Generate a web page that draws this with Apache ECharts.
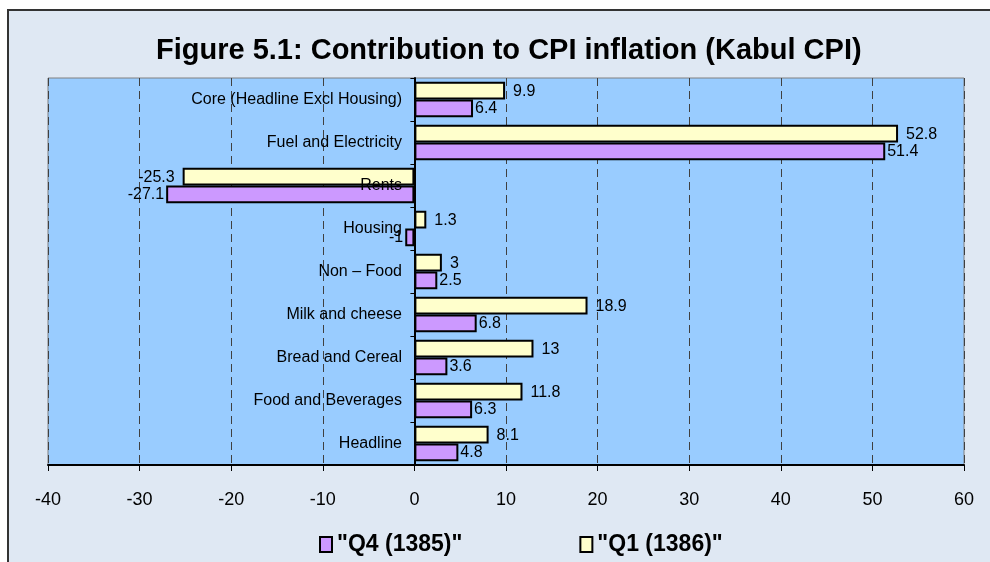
<!DOCTYPE html>
<html>
<head>
<meta charset="utf-8">
<script src="https://cdn.jsdelivr.net/npm/echarts@6/dist/echarts.min.js"></script>
<style>
    html, body { margin: 0; padding: 0; background: #fff; }
    #chart { width: 990px; height: 562px; }
</style>
</head>
<body>
<div id="chart"></div>
<script>
// categories from bottom to top
var categories = ['Headline', 'Food and Beverages', 'Bread and Cereal', 'Milk and cheese',
    'Non \u2013 Food', 'Housing', 'Rents', 'Fuel and Electricity', 'Core (Headline Excl Housing)'];
var q4_1385 = [4.8, 6.3, 3.6, 6.8, 2.5, -1, -27.1, 51.4, 6.4];
var q1_1386 = [8.1, 11.8, 13, 18.9, 3, 1.3, -25.3, 52.8, 9.9];
var xTicks = { min: -40, max: 60, interval: 10 };

var fontName = 'Liberation Sans, Arial, sans-serif';

function barData(arr, dy) {
    // negative bars get their label on the left
    return arr.map(function (v) {
        return {
            value: v,
            label: { position: v < 0 ? 'left' : 'right', offset: [0, dy] }
        };
    });
}

var chart = echarts.init(document.getElementById('chart'));

var option = {
    backgroundColor: '#ffffff',
    animation: false,
    graphic: [{
        type: 'rect',
        z: -10,
        shape: { x: 8, y: 10, width: 1000, height: 600 },
        style: { fill: '#dfe8f3', stroke: '#333333', lineWidth: 2 }
    }],
    title: {
        text: 'Figure 5.1: Contribution to CPI inflation (Kabul CPI)',
        left: 151,
        top: 31,
        textStyle: { fontFamily: fontName, fontSize: 29, fontWeight: 'bold', color: '#000' }
    },
    legend: {
        data: ['"Q4 (1385)"', '"Q1 (1386)"'],
        left: 314,
        top: 528,
        itemWidth: 12,
        itemHeight: 15,
        itemGap: 117,
        icon: 'rect',
        textStyle: { fontFamily: fontName, fontSize: 23, fontWeight: 'bold', color: '#000' }
    },
    grid: {
        left: 48,
        right: 26,
        top: 78,
        bottom: 97,
        outerBoundsMode: 'none',
        containLabel: false,
        show: true,
        backgroundColor: '#99ccff',
        borderColor: '#808080',
        borderWidth: 1
    },
    xAxis: {
        type: 'value',
        min: xTicks.min,
        max: xTicks.max,
        interval: xTicks.interval,
        axisLine: { show: true, onZero: false, lineStyle: { color: '#000', width: 2 } },
        axisTick: { show: true, length: 6, lineStyle: { color: '#000' } },
        axisLabel: { fontFamily: fontName, fontSize: 18, color: '#000', margin: 26 },
        splitLine: { show: true, lineStyle: { color: '#404040', type: [8, 5], width: 1 } }
    },
    yAxis: {
        type: 'category',
        data: categories,
        z: 10,
        axisLine: { show: true, onZero: true, lineStyle: { color: '#000', width: 2 } },
        axisTick: { show: true, length: 4, lineStyle: { color: '#000' } },
        // labels sit just left of the zero line, like the original
        axisLabel: { fontFamily: fontName, fontSize: 16, color: '#000', margin: -354 },
        splitLine: { show: false }
    },
    series: [{
        name: '"Q1 (1386)"',
        type: 'bar',
        data: barData(q1_1386, 1),
        barGap: '0%',
        barCategoryGap: '18%',
        itemStyle: { color: '#ffffcc', borderColor: '#000', borderWidth: 2 },
        label: {
            show: true, distance: 8,
            fontFamily: fontName, fontSize: 16, color: '#000'
        }
    }, {
        name: '"Q4 (1385)"',
        type: 'bar',
        data: barData(q4_1385, 0),
        barGap: '0%',
        barCategoryGap: '18%',
        itemStyle: { color: '#cc99ff', borderColor: '#000', borderWidth: 2 },
        label: {
            show: true, distance: 2,
            fontFamily: fontName, fontSize: 16, color: '#000'
        }
    }]
};

chart.setOption(option);

window.onresize = function () {
    chart.resize();
};
</script>
</body>
</html>
